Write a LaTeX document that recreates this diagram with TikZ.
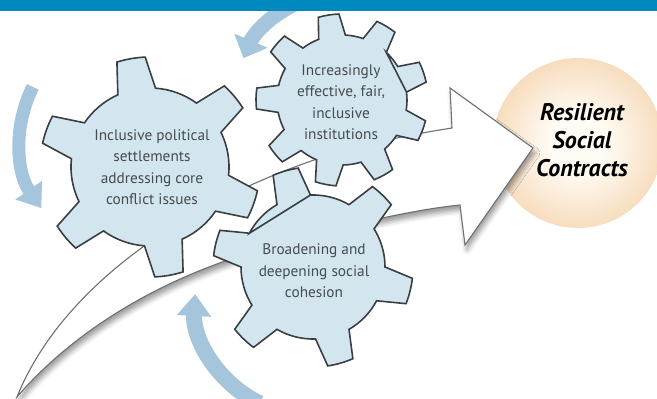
\documentclass[tikz,border=0pt]{standalone}
\usepackage{fontspec}
\setmainfont{PT Sans}
\usepackage{tikz}
\usetikzlibrary{arrows.meta,shadows.blur}
\definecolor{barblue}{HTML}{0089BF}
\definecolor{gearfill}{HTML}{D3E6EF}
\definecolor{gearline}{HTML}{3A3F44}
\definecolor{turnblue}{HTML}{A5C5DC}
\definecolor{geartext}{HTML}{464B51}
\definecolor{arrowline}{HTML}{6C7176}
\definecolor{glowedge}{HTML}{EFBE88}
\definecolor{glowcentre}{HTML}{FFFCF5}
\pgfdeclareradialshading{glow}{\pgfpoint{0bp}{0bp}}{color(0bp)=(glowcentre); color(8bp)=(glowcentre); color(42bp)=(glowedge); color(60bp)=(glowedge)}

\begin{document}
\begin{tikzpicture}[x=1pt,y=1pt,
  gearbox/.style={draw=gearline,fill=gearfill,line width=1.6pt},
  geartxt/.style={text=geartext,align=center,font=\fontsize{15.3}{21.5}\selectfont},
  turnarrow/.style={draw=turnblue,line width=#1}]
        \clip (0,0) rectangle (657,399);

        \node[circle,minimum size=170pt,inner sep=0pt,shading=glow] (contracts) at (578,256) {};

        \path
        (17,2) coordinate (tail)
        (452,271) coordinate (necktop)
        (450,311) coordinate (barbtop)
        (533,251) coordinate (head)
        (465,154) coordinate (barbbot)
        (460,194) coordinate (neckbot)
        ;
        \path[fill=white,draw=arrowline,line width=1.1pt,
          blur shadow={shadow xshift=2pt,shadow yshift=-5pt,shadow blur radius=5pt,shadow opacity=40}]
        (tail) .. controls (60,109) and (180,194) .. (320,241)
        .. controls (370,257) and (420,266) .. (necktop)
        -- (barbtop) -- (head) -- (barbbot) -- (neckbot)
        .. controls (410,189) and (330,171) .. (240,143)
        .. controls (150,114) and (70,64) .. (tail) -- cycle;

        \node[align=center,font=\bfseries\itshape\fontsize{24}{28}\selectfont] (resilient) at (582,259) {Resilient\\Social\\Contracts};

        \begin{scope}[shift={(150,232)}]
        \draw[gearbox] (86:79) \foreach \a in {100,160,...,400}
          { -- ({\a-7.5}:110) arc[start angle=\a-7.5,end angle=\a+7.5,radius=110pt]
            -- ({\a+14}:79) arc[start angle=\a+14,end angle=\a+46,radius=79pt] } -- cycle;
        \end{scope}
        \begin{scope}[shift={(342,299)}]
        \draw[gearbox] (7:65) \foreach \a in {19,59,...,379}
          { -- ({\a-7}:86) arc[start angle=\a-7,end angle=\a+7,radius=86pt]
            -- ({\a+12}:65) arc[start angle=\a+12,end angle=\a+28,radius=65pt] } -- cycle;
        \end{scope}
        \begin{scope}[shift={(313,132)}]
        \draw[gearbox] (92:72) \foreach \a in {106,166,...,466}
          { -- ({\a-7.5}:100) arc[start angle=\a-7.5,end angle=\a+7.5,radius=100pt]
            -- ({\a+14}:72) arc[start angle=\a+14,end angle=\a+46,radius=72pt] } -- cycle;
        \end{scope}

        \node[geartxt] (politics) at (152,232) {Inclusive political\\settlements\\addressing core\\conflict issues};
        \node[geartxt] (institutions) at (341,297) {Increasingly\\effective, fair,\\inclusive\\institutions};
        \node[geartxt] (cohesion) at (314,128) {Broadening and\\deepening social\\cohesion};

        \draw[turnarrow=15pt,-{Triangle[width=35pt,length=19pt]}] (342,299) ++(108:107) arc[start angle=108,end angle=157,radius=107pt];
        \draw[turnarrow=13pt,-{Triangle[width=31pt,length=22pt]}] (138,258.5) ++(153:118) arc[start angle=153,end angle=215,radius=118pt];
        \draw[turnarrow=16pt,-{Triangle[width=33pt,length=22pt]}] (310,99) ++(244:115) arc[start angle=244,end angle=177,radius=115pt];

        \fill[barblue] (0,388) rectangle (657,399);
\end{tikzpicture}
\end{document}
